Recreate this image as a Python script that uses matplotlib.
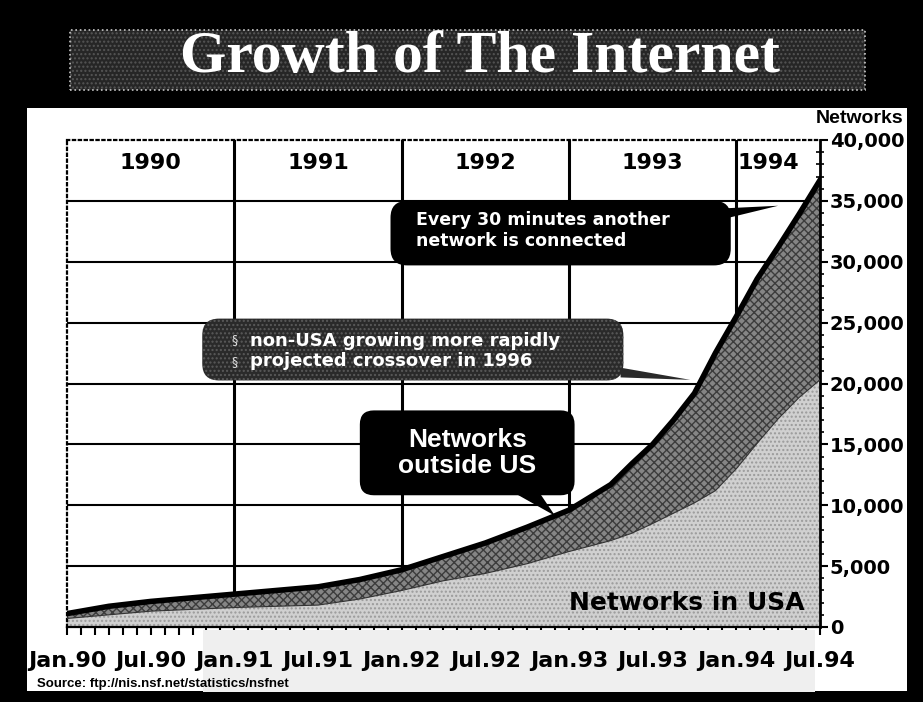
import numpy as np
import matplotlib.pyplot as plt
from matplotlib.patches import Rectangle, FancyBboxPatch, Polygon

# networks on NSFNET (months since Jan 1990)
months = [0, 3, 6, 9, 12, 15, 18, 21, 24, 27, 30, 33, 36, 39, 40.5, 42, 43.5,
          45, 46.5, 48, 49.5, 51, 52.5, 54]
total_nets = [1100, 1700, 2100, 2400, 2700, 3000, 3300, 3900, 4700, 5800, 6900,
              8200, 9600, 11700, 13400, 15000, 17000, 19200, 22500, 25500, 28600,
              31200, 33900, 36700]
usa_nets = [700, 1000, 1300, 1450, 1600, 1700, 1800, 2300, 3000, 3800, 4400,
            5200, 6200, 7100, 7700, 8500, 9350, 10200, 11200, 13000, 15100,
            17100, 18850, 20300]

tick_months = [0, 6, 12, 18, 24, 30, 36, 42, 48, 54]
tick_labels = ['Jan.90', 'Jul.90', 'Jan.91', 'Jul.91', 'Jan.92',
               'Jul.92', 'Jan.93', 'Jul.93', 'Jan.94', 'Jul.94']
years = ['1990', '1991', '1992', '1993', '1994']
year_centres = [6, 18, 30, 42, 50.3]
year_starts = [12, 24, 36, 48]
y_ticks = list(range(0, 40001, 5000))

W, H = 923, 702


def fx(x):
    return x / W


def fy(y):
    return 1 - y / H


fig = plt.figure(figsize=(W / 100, H / 100), dpi=100, facecolor='black')

# white slide panel and title banner
fig.add_artist(Rectangle((fx(27), fy(691)), (907 - 27) / W, (691 - 108) / H,
                         transform=fig.transFigure, fc='white', ec='none', zorder=-2))
fig.add_artist(Rectangle((fx(70), fy(90)), (865 - 70) / W, 60 / H,
                         transform=fig.transFigure, fc='#262626', ec='#555555',
                         hatch='....', lw=0, zorder=-1))
fig.add_artist(Rectangle((fx(70), fy(90)), (865 - 70) / W, 60 / H,
                         transform=fig.transFigure, fill=False, ec='#c8c8c8',
                         lw=1.2, ls=':', zorder=-1))
fig.text(fx(480), fy(58), 'Growth of The Internet', color='white', fontsize=43,
         fontfamily='Liberation Serif', fontweight='bold', ha='center', va='center')

rect = [fx(67), fy(627), (820 - 67) / W, (627 - 140) / H]
ax = fig.add_axes(rect)
ax.set_xlim(0, 54)
ax.set_ylim(0, 40000)

# stacked areas
ax.fill_between(months, 0, usa_nets, fc='#d0d0d0', ec='#9a9a9a', hatch='....', lw=0, zorder=2)
ax.fill_between(months, usa_nets, total_nets, fc='#858585', ec='#3c3c3c', hatch='xxxx', lw=0, zorder=2)
ax.plot(months, usa_nets, color='#333333', lw=0.8, zorder=3)
ax.plot(months, total_nets, color='black', lw=4, zorder=4)

# grid
for v in y_ticks[1:-1]:
    ax.axhline(v, color='black', lw=1.5, zorder=1)
for m in year_starts:
    ax.axvline(m, color='black', lw=2.2, zorder=1)

for side in ['left', 'top']:
    ax.spines[side].set_linestyle(':')
    ax.spines[side].set_linewidth(1.6)
ax.spines['right'].set_linewidth(2)
ax.spines['bottom'].set_linewidth(1.6)

ax.yaxis.tick_right()
ax.set_yticks(y_ticks, labels=[f'{v:,}' for v in y_ticks])
ax.set_yticks(range(0, 40001, 1000), minor=True)
ax.tick_params(axis='y', which='major', direction='out', length=6, width=1.5,
               pad=1, labelsize=14)
ax.tick_params(axis='y', which='minor', direction='inout', length=6, width=1.2)
for lbl in ax.get_yticklabels():
    lbl.set_fontweight('bold')

ax.set_xticks([])
ax.set_xticks(range(0, 55), minor=True)
ax.tick_params(axis='x', which='minor', direction='out', length=6, width=1.5)

# year header row
for yr, m in zip(years, year_centres):
    ax.text(m, 38100, yr, ha='center', va='center', fontsize=16, fontweight='bold', zorder=5)
ax.text(1.052, 1.045, 'Networks', transform=ax.transAxes, ha='center', va='center',
        fontsize=14, fontfamily='Liberation Sans', fontweight='bold')
ax.text(52.9, 1970, 'Networks in USA', ha='right', va='center', fontsize=18,
        fontweight='bold', zorder=5)

# callouts
asp = (40000 / (627 - 140)) / (54 / (820 - 67))
ax.add_patch(FancyBboxPatch((23.2, 29700), 47.6 - 23.2, 35000 - 29700,
                            boxstyle='round,pad=0,rounding_size=1.2', mutation_aspect=asp,
                            fc='black', ec='none', zorder=5))
ax.add_patch(Polygon([(47.4, 34400), (47.4, 33600), (51.0, 34600)], fc='black', zorder=5))
ax.text(25.0, 32550, 'Every 30 minutes another\nnetwork is connected', color='white',
        fontsize=12.5, fontweight='bold', ha='left', va='center', linespacing=1.25, zorder=6)

ax.add_patch(FancyBboxPatch((9.7, 20250), 39.9 - 9.7, 25330 - 20250,
                            boxstyle='round,pad=0,rounding_size=1.2', mutation_aspect=asp,
                            fc='#2a2a2a', ec='#5a5a5a', hatch='....', lw=0, zorder=5))
ax.add_patch(Polygon([(39.7, 21300), (39.7, 20500), (44.7, 20300)], fc='#2a2a2a', zorder=5))
ax.text(13.1, 22700, 'non-USA growing more rapidly\nprojected crossover in 1996',
        color='white', fontsize=13, fontweight='bold', ha='left', va='center',
        linespacing=1.15, zorder=6)
ax.text(12.0, 22700, '§\n§', color='#dddddd', fontsize=9, ha='center', va='center',
        linespacing=1.9, zorder=6)

tip_m = 35.0
tip_v = np.interp(tip_m, months, total_nets)
ax.add_patch(FancyBboxPatch((21.0, 10820), 36.4 - 21.0, 17790 - 10820,
                            boxstyle='round,pad=0,rounding_size=1.0', mutation_aspect=asp,
                            fc='black', ec='none', zorder=5))
ax.add_patch(Polygon([(32.1, 11000), (33.9, 11000), (tip_m, tip_v)], fc='black', zorder=5))
ax.text(28.7, 14300, 'Networks\noutside US', color='white', fontsize=19,
        fontfamily='Liberation Sans', fontweight='bold', ha='center', va='center',
        linespacing=1.1, zorder=6)

# light scan patch under the axis, then date labels on top of it
fig.add_artist(Rectangle((fx(203), fy(692)), (815 - 203) / W, (692 - 630) / H,
                         transform=fig.transFigure, fc='#efefef', ec='none', zorder=1))
ax2 = fig.add_axes(rect, zorder=2)
ax2.patch.set_visible(False)
for s in ax2.spines.values():
    s.set_visible(False)
ax2.set_xlim(0, 54)
ax2.set_yticks([])
ax2.set_xticks(tick_months, labels=tick_labels)
ax2.tick_params(axis='x', length=0, pad=17, labelsize=16)
for lbl in ax2.get_xticklabels():
    lbl.set_fontweight('bold')

fig.text(fx(37), fy(684), 'Source: ftp://nis.nsf.net/statistics/nsfnet', fontsize=9.5,
         fontfamily='Liberation Sans', fontweight='bold', va='center', zorder=3)

fig.savefig('out.png', dpi=100, facecolor='black')
